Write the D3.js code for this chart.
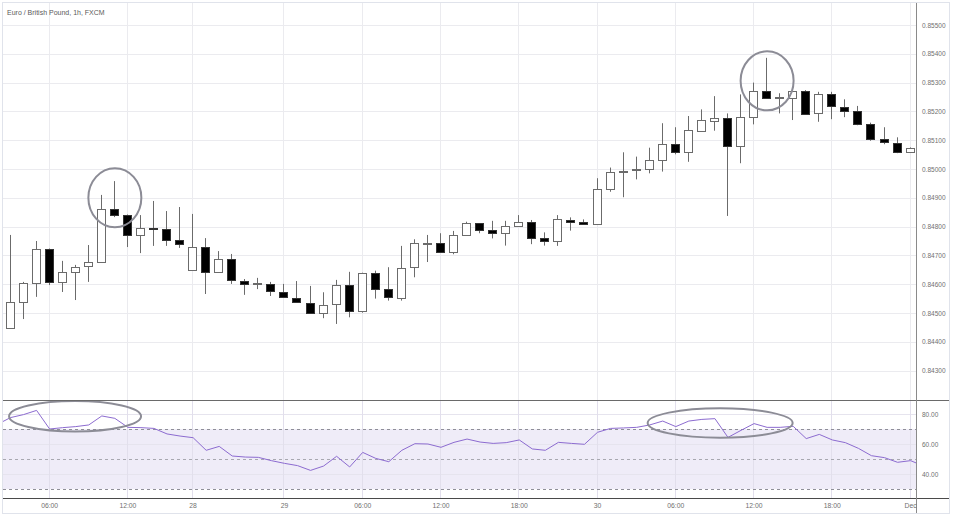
<!DOCTYPE html>
<html><head><meta charset="utf-8">
<script src="https://cdn.jsdelivr.net/npm/d3@7"></script>
<style>html,body{margin:0;padding:0;background:#fff;}svg{display:block;}</style>
</head><body><svg id="c" width="954" height="518"></svg>
<script>
const title = "Euro / British Pound, 1h, FXCM";
const openP  = [0.84448,0.84538,0.84604,0.84722,0.84608,0.84642,0.84663,0.84677,0.84861,0.84840,0.84771,0.84795,0.84790,0.84753,0.84649,0.84729,0.84642,0.84688,0.84611,0.84601,0.84601,0.84573,0.84552,0.84536,0.84499,0.84530,0.84596,0.84505,0.84638,0.84582,0.84553,0.84657,0.84742,0.84742,0.84711,0.84770,0.84811,0.84787,0.84777,0.84802,0.84815,0.84759,0.84747,0.84823,0.84816,0.84811,0.84930,0.84990,0.84995,0.84999,0.85031,0.85086,0.85058,0.85133,0.85169,0.85178,0.85080,0.85182,0.85272,0.85249,0.85249,0.85272,0.85193,0.85259,0.85216,0.85202,0.85155,0.85103,0.85089,0.85058];
const highP  = [0.84771,0.84608,0.84750,0.84724,0.84681,0.84667,0.84736,0.84910,0.84958,0.84842,0.84840,0.84889,0.84854,0.84868,0.84844,0.84760,0.84715,0.84705,0.84618,0.84622,0.84608,0.84601,0.84611,0.84594,0.84572,0.84615,0.84643,0.84640,0.84647,0.84659,0.84733,0.84756,0.84771,0.84777,0.84785,0.84817,0.84812,0.84820,0.84820,0.84840,0.84823,0.84780,0.84840,0.84832,0.84825,0.84968,0.85005,0.85058,0.85043,0.85074,0.85159,0.85145,0.85184,0.85207,0.85253,0.85193,0.85259,0.85300,0.85386,0.85263,0.85280,0.85274,0.85268,0.85268,0.85242,0.85219,0.85161,0.85145,0.85110,0.85075];
const lowP   = [0.84448,0.84479,0.84556,0.84597,0.84573,0.84545,0.84608,0.84675,0.84833,0.84729,0.84708,0.84733,0.84733,0.84726,0.84648,0.84566,0.84639,0.84601,0.84563,0.84583,0.84559,0.84555,0.84537,0.84497,0.84482,0.84462,0.84485,0.84501,0.84550,0.84543,0.84543,0.84624,0.84677,0.84710,0.84704,0.84769,0.84777,0.84759,0.84734,0.84801,0.84739,0.84734,0.84733,0.84786,0.84809,0.84809,0.84921,0.84902,0.84964,0.84985,0.84991,0.85051,0.85025,0.85130,0.85133,0.84837,0.85020,0.85155,0.85245,0.85193,0.85170,0.85193,0.85164,0.85173,0.85180,0.85152,0.85098,0.85086,0.85055,0.85057];
const closeP = [0.84538,0.84604,0.84722,0.84608,0.84642,0.84660,0.84677,0.84861,0.84840,0.84771,0.84795,0.84790,0.84753,0.84740,0.84729,0.84642,0.84688,0.84615,0.84601,0.84603,0.84576,0.84556,0.84538,0.84501,0.84528,0.84597,0.84505,0.84638,0.84584,0.84553,0.84657,0.84742,0.84743,0.84711,0.84771,0.84811,0.84788,0.84778,0.84802,0.84815,0.84759,0.84748,0.84825,0.84817,0.84810,0.84931,0.84989,0.84994,0.85000,0.85031,0.85086,0.85058,0.85134,0.85170,0.85178,0.85080,0.85182,0.85272,0.85249,0.85250,0.85272,0.85193,0.85260,0.85219,0.85202,0.85156,0.85103,0.85091,0.85057,0.85072];
// RSI values for bar index -1 .. 70
const rsiStart = -1;
const rsiVals = [73.1,77.6,79.6,82.4,70.0,70.9,71.6,72.7,78.7,77.1,71.1,70.9,70.4,66.7,65.3,64.2,55.8,58.4,52.0,51.3,51.1,48.9,47.1,45.6,42.4,45.3,51.8,44.7,54.4,50.4,48.2,55.8,60.2,60.0,57.8,61.1,63.3,61.3,60.4,60.9,62.7,56.7,55.8,61.1,60.4,59.8,67.8,70.4,70.7,71.1,72.7,75.3,71.6,75.3,76.4,76.9,64.4,69.1,73.6,71.1,71.1,71.8,63.6,66.4,62.7,60.9,57.1,52.2,50.9,47.8,48.9,45.3];
const priceTicks = [0.843,0.844,0.845,0.846,0.847,0.848,0.849,0.850,0.851,0.852,0.853,0.854,0.855];
const rsiTicks = [80,60,40];
const rsiBands = [70,50,30];
const timeTickIdx = [3,9,14,21,27,33,39,45,51,57,63,69];
const timeTickLabels = ["06:00","12:00","28","29","06:00","12:00","18:00","30","06:00","12:00","18:00","Dec"];
// highlighted ellipses: centre given as [bar index, price or rsi value]
const priceMarks = [{i:8, v:0.84900},{i:58, v:0.85306}];
const rsiMarks = [{i:4.95, v:78.5},{i:54.4, v:74.0}];

const svg = d3.select("#c");
const L = 3, R = 916, T = 3, MB = 400, RT = 401, RB = 498;
const x = d3.scaleLinear().domain([0,69]).range([10.5, 910.6]);
const y = d3.scaleLinear().domain([0.843,0.855]).range([370.6, 25]);
const yr = d3.scaleLinear().domain([30,70]).range([489, 429]);

svg.append("rect").attr("x",2.5).attr("y",2.5).attr("width",947).attr("height",511)
  .attr("fill","#fff").attr("stroke","#e0e3eb");

const defs = svg.append("defs");
defs.append("clipPath").attr("id","cm").append("rect").attr("x",L).attr("y",T).attr("width",R-L).attr("height",MB-T);
defs.append("clipPath").attr("id","cr").append("rect").attr("x",L).attr("y",RT).attr("width",R-L).attr("height",RB-RT);

// grid main
const gm = svg.append("g").attr("clip-path","url(#cm)");
gm.selectAll("line.h").data(priceTicks).join("line")
  .attr("x1",L).attr("x2",R).attr("y1",d=>Math.round(y(d))+0.5).attr("y2",d=>Math.round(y(d))+0.5)
  .attr("stroke","#ebebef");
gm.selectAll("line.v").data(timeTickIdx).join("line")
  .attr("y1",T).attr("y2",MB).attr("x1",d=>Math.round(x(d))-0.5).attr("x2",d=>Math.round(x(d))-0.5)
  .attr("stroke","#ebebef");

// candles
const data = openP.map((o,i)=>({i,o,h:highP[i],l:lowP[i],c:closeP[i]}));
const cg = gm.append("g");
cg.selectAll("line.w").data(data).join("line")
  .attr("x1",d=>Math.round(x(d.i))-0.5).attr("x2",d=>Math.round(x(d.i))-0.5)
  .attr("y1",d=>y(d.h)).attr("y2",d=>y(d.l))
  .attr("stroke","#6b6b6b").attr("stroke-width",1);
cg.selectAll("rect").data(data).join("rect")
  .attr("x",d=>Math.round(x(d.i))-5+0.5).attr("width",8)
  .attr("y",d=>Math.round(y(Math.max(d.o,d.c)))+0.5)
  .attr("height",d=>Math.max(1, Math.round(Math.abs(y(d.o)-y(d.c)))))
  .attr("fill",d=>d.c>=d.o?"#ffffff":"#000000")
  .attr("stroke",d=>d.c>=d.o?"#6b6b6b":"#333").attr("stroke-width",1);

// price ellipses
gm.selectAll("ellipse").data(priceMarks).join("ellipse")
  .attr("cx",d=>x(d.i)).attr("cy",d=>y(d.v)).attr("rx",26.5).attr("ry",29.5)
  .attr("fill","none").attr("stroke","#8c8c96").attr("stroke-width",2);

// RSI panel
const gr = svg.append("g").attr("clip-path","url(#cr)");
gr.append("rect").attr("x",L).attr("width",R-L).attr("y",yr(70)).attr("height",yr(30)-yr(70)).attr("fill","#efecf8");
gr.selectAll("line.h").data(rsiTicks).join("line")
  .attr("x1",L).attr("x2",R).attr("y1",d=>Math.round(yr(d))+0.5).attr("y2",d=>Math.round(yr(d))+0.5)
  .attr("stroke","#e6e4ee");
gr.selectAll("line.v").data(timeTickIdx).join("line")
  .attr("y1",RT).attr("y2",RB).attr("x1",d=>Math.round(x(d))-0.5).attr("x2",d=>Math.round(x(d))-0.5)
  .attr("stroke","#e2dfec");
gr.selectAll("line.b").data(rsiBands).join("line")
  .attr("x1",L).attr("x2",R).attr("y1",d=>Math.round(yr(d))+0.5).attr("y2",d=>Math.round(yr(d))+0.5)
  .attr("stroke",d=>d===50?"#a8a8b0":"#8f8f98").attr("stroke-dasharray","3,3");
const line = d3.line().x((d,k)=>x(k+rsiStart)).y(d=>yr(d));
gr.append("path").attr("d",line(rsiVals)).attr("fill","none").attr("stroke","#8c6bd0").attr("stroke-width",1);
gr.selectAll("ellipse").data(rsiMarks).join("ellipse")
  .attr("cx",(d,k)=>x(d.i)).attr("cy",d=>yr(d.v)).attr("rx",(d,k)=>k===0?66:72.5).attr("ry",(d,k)=>k===0?15.3:14.7)
  .attr("fill","none").attr("stroke","#8c8c96").attr("stroke-width",2);

// axes lines
svg.append("line").attr("x1",L).attr("x2",949).attr("y1",400.5).attr("y2",400.5).attr("stroke","#6a6a6a");
svg.append("line").attr("x1",L).attr("x2",949).attr("y1",498.5).attr("y2",498.5).attr("stroke","#4a4a4a");
svg.append("line").attr("x1",916.5).attr("x2",916.5).attr("y1",T).attr("y2",513).attr("stroke","#8a8a8a");

// axis labels
const font = "Liberation Sans, Arial, sans-serif";
svg.append("g").selectAll("text").data(priceTicks).join("text")
  .attr("x",922).attr("y",d=>y(d)+2.5).text(d=>d.toFixed(5))
  .attr("font-family",font).attr("font-size",6.5).attr("fill","#707070");
svg.append("g").selectAll("text").data(rsiTicks).join("text")
  .attr("x",922).attr("y",d=>yr(d)+2.5).text(d=>d.toFixed(2))
  .attr("font-family",font).attr("font-size",6.5).attr("fill","#707070");
svg.append("g").selectAll("text").data(timeTickIdx).join("text")
  .attr("x",d=>x(d)).attr("y",507.5).attr("text-anchor","middle").text((d,k)=>timeTickLabels[k])
  .attr("font-family",font).attr("font-size",6.8).attr("fill","#707070");
svg.append("text").attr("x",7).attr("y",15).text(title)
  .attr("font-family",font).attr("font-size",7).attr("fill","#5a5a5a");
</script></body></html>
